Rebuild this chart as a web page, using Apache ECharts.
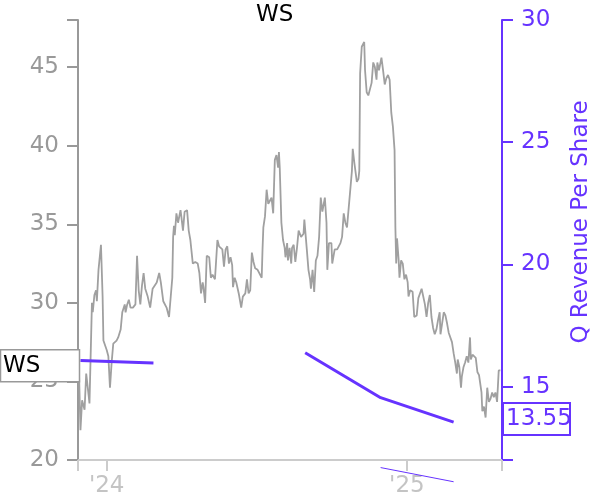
<!DOCTYPE html>
<html>
<head>
<meta charset="utf-8">
<script src="https://cdn.jsdelivr.net/npm/echarts@6/dist/echarts.min.js"></script>
<style>
html,body{margin:0;padding:0;background:#fff;}
#chart{width:600px;height:500px;}
</style>
</head>
<body>
<div id="chart"></div>
<script>
const ticker = 'WS';
const rightAxisName = 'Q Revenue Per Share';

const priceDates = [
'2023-11-28','2023-11-30','2023-12-02','2023-12-05','2023-12-07','2023-12-10','2023-12-11','2023-12-14','2023-12-15','2023-12-17',
'2023-12-19','2023-12-20','2023-12-22','2023-12-25','2023-12-27','2023-12-28','2024-01-01','2024-01-03','2024-01-05','2024-01-07',
'2024-01-09','2024-01-13','2024-01-15','2024-01-18','2024-01-20','2024-01-23','2024-01-24','2024-01-26','2024-01-28','2024-01-30',
'2024-02-02','2024-02-05','2024-02-07','2024-02-09','2024-02-11','2024-02-13','2024-02-15','2024-02-17','2024-02-20','2024-02-23',
'2024-02-26','2024-02-28','2024-03-02','2024-03-05','2024-03-07','2024-03-10','2024-03-14','2024-03-17','2024-03-21','2024-03-22',
'2024-03-23','2024-03-24','2024-03-26','2024-03-28','2024-03-31','2024-04-01','2024-04-03','2024-04-05','2024-04-08','2024-04-10',
'2024-04-12','2024-04-15','2024-04-18','2024-04-21','2024-04-23','2024-04-25','2024-04-27','2024-04-28','2024-04-30','2024-05-02',
'2024-05-05','2024-05-07','2024-05-09','2024-05-12','2024-05-15','2024-05-17','2024-05-19','2024-05-21','2024-05-23','2024-05-25',
'2024-05-27','2024-05-29','2024-05-31','2024-06-02','2024-06-03','2024-06-05','2024-06-07','2024-06-10','2024-06-13','2024-06-15',
'2024-06-18','2024-06-20','2024-06-22','2024-06-24','2024-06-26','2024-06-28','2024-06-30','2024-07-03','2024-07-05','2024-07-08',
'2024-07-09','2024-07-10','2024-07-12','2024-07-14','2024-07-16','2024-07-18','2024-07-20','2024-07-22','2024-07-24','2024-07-26',
'2024-07-28','2024-07-29','2024-07-30','2024-08-01','2024-08-03','2024-08-05','2024-08-06','2024-08-08','2024-08-09','2024-08-11',
'2024-08-13','2024-08-14','2024-08-16','2024-08-18','2024-08-20','2024-08-22','2024-08-25','2024-08-28','2024-08-29','2024-09-01',
'2024-09-03','2024-09-05','2024-09-06','2024-09-08','2024-09-10','2024-09-12','2024-09-14','2024-09-16','2024-09-18','2024-09-20',
'2024-09-22','2024-09-23','2024-09-25','2024-09-26','2024-09-28','2024-10-01','2024-10-02','2024-10-05','2024-10-08','2024-10-10',
'2024-10-12','2024-10-14','2024-10-16','2024-10-18','2024-10-20','2024-10-22','2024-10-24','2024-10-26','2024-10-27','2024-10-29',
'2024-11-01','2024-11-03','2024-11-04','2024-11-05','2024-11-07','2024-11-10','2024-11-11','2024-11-13','2024-11-15','2024-11-17',
'2024-11-19','2024-11-21','2024-11-23','2024-11-25','2024-11-26','2024-11-28','2024-12-01','2024-12-03','2024-12-05','2024-12-07',
'2024-12-09','2024-12-11','2024-12-13','2024-12-15','2024-12-17','2024-12-18','2024-12-19','2024-12-20','2024-12-22','2024-12-23',
'2024-12-25','2024-12-27','2024-12-29','2024-12-31','2025-01-02','2025-01-03','2025-01-05','2025-01-08','2025-01-10','2025-01-13',
'2025-01-15','2025-01-17','2025-01-19','2025-01-21','2025-01-23','2025-01-25','2025-01-27','2025-01-29','2025-01-31','2025-02-02',
'2025-02-04','2025-02-06','2025-02-08','2025-02-10','2025-02-11','2025-02-13','2025-02-15','2025-02-17','2025-02-19','2025-02-21',
'2025-02-23','2025-02-25','2025-02-27','2025-03-01','2025-03-03','2025-03-04','2025-03-06','2025-03-08','2025-03-09','2025-03-11',
'2025-03-13','2025-03-15','2025-03-17','2025-03-19','2025-03-20','2025-03-22','2025-03-24','2025-03-26','2025-03-28','2025-03-30',
'2025-04-01','2025-04-02','2025-04-03','2025-04-05','2025-04-07','2025-04-09','2025-04-11','2025-04-13','2025-04-15','2025-04-17',
'2025-04-19','2025-04-21','2025-04-23','2025-04-25'
];
const priceValues = [
26.0,21.9,23.8,23.2,25.5,24.1,23.6,30.0,29.4,30.5,
30.8,30.1,32.1,33.7,30.4,27.6,27.0,26.6,24.6,26.2,
27.4,27.6,27.8,28.3,29.4,29.9,29.4,29.9,30.2,29.7,
29.7,29.9,33.0,30.8,29.9,31.1,31.9,30.9,30.4,29.7,
30.9,30.8,31.3,31.9,31.3,30.1,29.7,29.1,31.6,34.2,
34.9,34.3,35.7,35.1,35.9,35.5,34.6,35.8,35.9,34.6,
34.0,32.5,32.6,32.5,31.9,30.6,31.3,31.0,30.0,33.0,
32.9,31.6,31.8,31.5,34.0,33.6,33.7,33.4,32.3,33.4,
33.6,32.5,32.9,32.4,31.0,31.6,31.3,30.6,29.7,30.4,
30.6,31.5,30.6,30.8,33.2,32.6,32.2,32.1,32.1,31.6,
33.4,34.8,35.5,37.2,36.3,36.5,36.7,35.7,39.1,39.4,
38.6,39.6,38.6,35.1,34.0,33.5,32.9,33.8,32.7,33.5,
32.5,33.5,33.7,32.6,33.5,34.6,34.2,34.4,35.3,33.4,
32.1,31.5,30.9,32.1,30.7,32.7,33.0,34.2,36.7,35.8,
35.9,36.7,35.1,32.1,33.8,33.8,32.5,33.4,33.4,33.5,
33.8,34.2,35.7,35.1,34.8,34.8,37.2,38.4,39.8,38.9,
37.7,37.9,38.4,44.6,46.3,46.6,44.8,43.4,43.2,43.3,
44.0,45.3,45.0,44.2,45.3,44.8,45.6,44.8,43.9,44.3,
44.5,44.2,42.1,41.2,39.7,34.8,32.5,34.1,32.7,31.6,
32.7,32.5,31.5,31.8,31.3,30.4,30.8,30.7,29.1,29.2,
30.3,30.2,30.9,31.0,29.9,29.1,30.0,30.5,29.1,28.4,
28.0,28.3,28.9,29.4,28.0,28.7,29.4,29.2,28.7,28.1,
28.0,27.5,26.8,26.2,25.5,26.4,25.9,24.6,25.3,25.9,
26.2,26.6,26.2,27.8,26.4,26.7,26.6,26.5,25.6,25.4,
25.5,24.3,23.1,23.4,22.7,24.6,23.7,23.9,24.3,24.0,
24.3,23.7,25.7,25.7
];

const revDates = ['2023-11-30','2024-02-27','2024-05-30','2024-08-30','2024-11-30','2025-02-27'];
const revValues = [16.07, 15.97, null, 16.39, 14.55, 13.55];

const thinDates = ['2024-11-30','2025-02-27'];
const thinValues = [11.69, 11.11];

const xTickDates = ['2023-11-27','2024-01-01','2025-01-01','2025-04-27'];
const xLabelDates = ['2024-01-01','2025-01-01'];
const xLabelTexts = ["'24","'25"];
const leftTicks = [20,25,30,35,40,45,48];
const leftLabels = [20,25,30,35,40,45];
const rightTicks = [12,15,20,25,30];
const rightLabels = [15,20,25,30];

const PURPLE = '#6633ff';
const FONT = 'DejaVu Sans';

const ts = d => new Date(d + 'T00:00:00Z').getTime();
const chart = echarts.init(document.getElementById('chart'), null, {renderer: 'canvas'});

const labelMap = {};
xLabelDates.forEach((d, i) => { labelMap[ts(d)] = xLabelTexts[i]; });

chart.setOption({
  animation: false,
  textStyle: {fontFamily: FONT},
  title: {
    text: ticker, left: 251, top: -1,
    textStyle: {fontSize: 23, fontWeight: 'normal', color: '#000', fontFamily: FONT}
  },
  grid: {left: 78, right: 98, top: 20, bottom: 40, containLabel: false},
  xAxis: {
    type: 'value',
    min: ts(xTickDates[0]), max: ts(xTickDates[xTickDates.length - 1]),
    axisLine: {show: true, lineStyle: {color: '#cccccc', width: 2}},
    axisTick: {show: true, length: 11, lineStyle: {color: '#cccccc', width: 2}, customValues: xTickDates.map(ts)},
    axisLabel: {
      show: true, color: '#c4c4c4', fontSize: 23, margin: 15, fontFamily: FONT,
      customValues: xLabelDates.map(ts),
      formatter: v => labelMap[v] || ''
    },
    splitLine: {show: false}
  },
  yAxis: [
    {
      type: 'value', position: 'left', min: 20, max: 48,
      axisLine: {show: true, lineStyle: {color: '#999999', width: 2}},
      axisTick: {show: true, length: 11, lineStyle: {color: '#999999', width: 2}, customValues: leftTicks},
      axisLabel: {color: '#999999', fontSize: 23, margin: 19, fontFamily: FONT, customValues: leftLabels},
      splitLine: {show: false}
    },
    {
      type: 'value', position: 'right', min: 12, max: 30,
      axisLine: {show: true, lineStyle: {color: PURPLE, width: 2}},
      axisTick: {show: true, length: 11, lineStyle: {color: PURPLE, width: 2}, customValues: rightTicks},
      axisLabel: {color: PURPLE, fontSize: 23, margin: 19, fontFamily: FONT, customValues: rightLabels},
      splitLine: {show: false}
    }
  ],
  series: [
    {
      name: ticker, type: 'line', yAxisIndex: 0, showSymbol: false, symbol: 'none',
      lineStyle: {color: '#a0a0a0', width: 1.8},
      data: priceDates.map((d, i) => [ts(d), priceValues[i]]),
      z: 2
    },
    {
      name: rightAxisName, type: 'line', yAxisIndex: 1, showSymbol: false, symbol: 'none',
      connectNulls: false,
      lineStyle: {color: PURPLE, width: 3},
      data: revDates.map((d, i) => [ts(d), revValues[i]]),
      z: 3
    },
    {
      name: 'thin', type: 'line', yAxisIndex: 1, showSymbol: false, symbol: 'none',
      clip: false,
      lineStyle: {color: PURPLE, width: 1},
      data: thinDates.map((d, i) => [ts(d), thinValues[i]]),
      z: 3
    }
  ]
});

const wsY = chart.convertToPixel({yAxisIndex: 0}, priceValues[0]);
const lastRev = revValues[revValues.length - 1];
const revY = chart.convertToPixel({yAxisIndex: 1}, lastRev) - 3;
const rightX = chart.convertToPixel({xAxisIndex: 0}, ts(xTickDates[xTickDates.length - 1]));

chart.setOption({
  graphic: [
    {type: 'rect', z: 100, shape: {x: 0.5, y: wsY - 16, width: 79, height: 32},
     style: {fill: '#ffffff', stroke: '#999999', lineWidth: 1.5}},
    {type: 'text', z: 101, x: 3, y: wsY,
     style: {text: ticker, fontSize: 23, fontFamily: FONT, fill: '#000000', verticalAlign: 'middle', align: 'left'}},
    {type: 'rect', z: 100, shape: {x: rightX + 1, y: revY - 16, width: 67, height: 32},
     style: {fill: '#ffffff', stroke: PURPLE, lineWidth: 2}},
    {type: 'text', z: 101, x: rightX + 4, y: revY,
     style: {text: lastRev.toFixed(2), fontSize: 23, fontFamily: FONT, fill: PURPLE, verticalAlign: 'middle', align: 'left'}},
    {type: 'text', z: 101, x: 581, y: 222, rotation: Math.PI / 2,
     style: {text: rightAxisName, fontSize: 23, fontFamily: FONT, fill: PURPLE, verticalAlign: 'middle', align: 'center'}}
  ]
});
</script>
</body>
</html>
